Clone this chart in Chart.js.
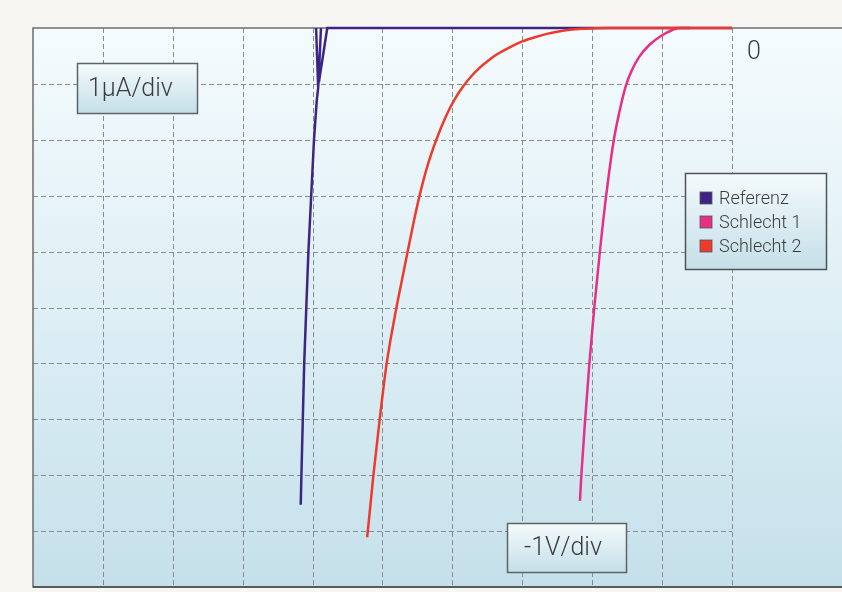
<!DOCTYPE html>
<html>
<head>
<meta charset="utf-8">
<script src="https://cdn.jsdelivr.net/npm/chart.js@4.4.1/dist/chart.umd.min.js"></script>
<style>
  html, body { margin: 0; padding: 0; background: #f7f6f2; }
  #wrap { width: 842px; height: 592px; position: relative; }
</style>
</head>
<body>
<div id="wrap"><canvas id="c" width="842" height="592"></canvas></div>
<script>
// ---- data (voltage in V, current in µA) ----
const seriesNames = ['Referenz', 'Schlecht 1', 'Schlecht 2'];
const seriesColors = ['#3d2586', '#e62f86', '#ee3a2c'];

// Referenz: main branch, hysteresis branches (null = gap)
const refX = [-6.17, -6.16, -6.14, -6.12, -6.09, -6.06, -6.02, -5.98, -5.94, -5.92, -5.95, null, -5.92, -5.88, null, -5.91, -5.79, 0];
const refY = [-8.53, -8.00, -7.00, -6.00, -5.00, -4.00, -3.00, -2.00, -1.29, -1.07, 0, null, -1.07, 0, null, -0.97, 0, 0];

const s1X = [-2.175, -2.155, -2.10, -2.04, -1.97, -1.89, -1.80, -1.69, -1.61, -1.52, -1.43, -1.33, -1.18, -1.00, -0.86, -0.76, -0.60];
const s1Y = [-8.46, -8.00, -7.00, -6.00, -5.00, -4.00, -3.00, -2.00, -1.50, -1.04, -0.75, -0.52, -0.30, -0.13, -0.04, 0, 0];

const s2X = [-5.22, -5.21, -5.13, -5.04, -4.94, -4.80, -4.72, -4.64, -4.55, -4.46, -4.35, -4.23, -4.10, -3.97, -3.85, -3.72, -3.60, -3.48, -3.36, -3.18, -3.00, -2.82, -2.65, -2.48, -2.32, -2.15, -1.95, -1.75, 0];
const s2Y = [-9.11, -9.00, -8.00, -7.00, -6.00, -5.00, -4.50, -4.00, -3.45, -2.95, -2.44, -2.00, -1.60, -1.28, -1.05, -0.85, -0.70, -0.575, -0.47, -0.345, -0.24, -0.165, -0.105, -0.062, -0.033, -0.014, -0.004, 0, 0];

const voltGrid = [-9, -8, -7, -6, -5, -4, -3, -2, -1, 0];
const currGrid = [-1, -2, -3, -4, -5, -6, -7, -8, -9];
const xMin = -10, xMax = 1.574, yMin = -10, yMax = 0;

const labelCurrent = '1µA/div';
const labelVoltage = '-1V/div';
const labelZero = '0';

function pts(xs, ys) {
  return xs.map((x, i) => (x === null ? { x: null, y: null } : { x: x, y: ys[i] }));
}

const FONT = '"Roboto", "Liberation Sans", "DejaVu Sans", sans-serif';

function boxGradient(ctx, x, y, w, h) {
  const g = ctx.createLinearGradient(0, y, 0, y + h);
  g.addColorStop(0, '#f4fafc');
  g.addColorStop(1, '#c4dfe8');
  return g;
}

const scopePlugin = {
  id: 'scope',
  beforeDraw(chart) {
    const { ctx, chartArea: a, scales } = chart;
    const xs = scales.x, ys = scales.y;
    ctx.save();
    ctx.fillStyle = '#f7f6f2';
    ctx.fillRect(0, 0, chart.width, chart.height);
    const g = ctx.createLinearGradient(0, a.top, 0, a.bottom);
    g.addColorStop(0, '#f5fbfd');
    g.addColorStop(0.5, '#deeff5');
    g.addColorStop(1, '#c5e0ea');
    ctx.fillStyle = g;
    ctx.fillRect(a.left, a.top, a.right - a.left, a.bottom - a.top);
    ctx.strokeStyle = '#868d92';
    ctx.lineWidth = 1;
    ctx.setLineDash([5, 3]);
    const x0 = xs.getPixelForValue(0);
    currGrid.forEach(v => {
      const y = Math.round(ys.getPixelForValue(v)) + 0.5;
      ctx.beginPath(); ctx.moveTo(a.left, y); ctx.lineTo(x0, y); ctx.stroke();
    });
    voltGrid.forEach(v => {
      const x = Math.round(xs.getPixelForValue(v)) + 0.5;
      ctx.beginPath(); ctx.moveTo(x, a.top); ctx.lineTo(x, a.bottom); ctx.stroke();
    });
    ctx.setLineDash([]);
    ctx.strokeStyle = '#6b6e70';
    ctx.lineWidth = 1.5;
    ctx.beginPath();
    ctx.moveTo(a.right, a.top); ctx.lineTo(a.left, a.top);
    ctx.lineTo(a.left, a.bottom); ctx.lineTo(a.right, a.bottom);
    ctx.stroke();
    ctx.strokeStyle = '#555a5d';
    ctx.lineWidth = 2;
    ctx.beginPath(); ctx.moveTo(a.left, a.bottom); ctx.lineTo(a.right, a.bottom); ctx.stroke();
    ctx.restore();
  },
  afterDatasetsDraw(chart) {
    const { ctx, scales } = chart;
    const xs = scales.x, ys = scales.y;
    ctx.save();
    function labelBox(x, y, w, h, text, size, tx) {
      ctx.fillStyle = boxGradient(ctx, x, y, w, h);
      ctx.fillRect(x, y, w, h);
      ctx.strokeStyle = '#5d6366';
      ctx.lineWidth = 1.5;
      ctx.strokeRect(x, y, w, h);
      ctx.fillStyle = '#3a3d40';
      ctx.font = '300 ' + size + 'px ' + FONT;
      ctx.textBaseline = 'middle';
      ctx.textAlign = 'left';
      ctx.fillText(text, tx, y + h / 2 + 1);
    }
    labelBox(77.5, 63.5, 120, 50, labelCurrent, 25, 88);
    labelBox(507.5, 523.5, 119, 49, labelVoltage, 25, 524);
    ctx.fillStyle = '#3a3d40';
    ctx.font = '300 25px ' + FONT;
    ctx.textAlign = 'center';
    ctx.textBaseline = 'middle';
    ctx.fillText(labelZero, xs.getPixelForValue(0) + 22, ys.getPixelForValue(0) + 25);
    const lx = 685.5, ly = 173.5, lw = 141, lh = 96;
    ctx.fillStyle = boxGradient(ctx, lx, ly, lw, lh);
    ctx.fillRect(lx, ly, lw, lh);
    ctx.strokeStyle = '#4f5457';
    ctx.lineWidth = 1.5;
    ctx.strokeRect(lx, ly, lw, lh);
    ctx.font = '300 18px ' + FONT;
    ctx.textAlign = 'left';
    seriesNames.forEach((name, i) => {
      const cy = 198 + i * 24;
      ctx.fillStyle = seriesColors[i];
      ctx.fillRect(700, cy - 6, 12, 12);
      ctx.strokeStyle = '#555';
      ctx.lineWidth = 0.8;
      ctx.strokeRect(700, cy - 6, 12, 12);
      ctx.fillStyle = '#3a3d40';
      ctx.fillText(name, 719, cy + 1);
    });
    ctx.restore();
  }
};

new Chart(document.getElementById('c'), {
  type: 'scatter',
  data: {
    datasets: [
      { label: seriesNames[0], data: pts(refX, refY), borderColor: seriesColors[0], backgroundColor: seriesColors[0],
        showLine: true, borderWidth: 2.5, pointRadius: 0, tension: 0, spanGaps: false, clip: false, order: 2 },
      { label: seriesNames[1], data: pts(s1X, s1Y), borderColor: seriesColors[1], backgroundColor: seriesColors[1],
        showLine: true, borderWidth: 2.5, pointRadius: 0, cubicInterpolationMode: 'monotone', clip: false, order: 1 },
      { label: seriesNames[2], data: pts(s2X, s2Y), borderColor: seriesColors[2], backgroundColor: seriesColors[2],
        showLine: true, borderWidth: 2.5, pointRadius: 0, cubicInterpolationMode: 'monotone', clip: false, order: 0 }
    ]
  },
  options: {
    responsive: false,
    animation: false,
    events: [],
    layout: { padding: { left: 33, top: 28, right: 0, bottom: 5 } },
    plugins: { legend: { display: false }, tooltip: { enabled: false } },
    scales: {
      x: { type: 'linear', min: xMin, max: xMax, display: false },
      y: { type: 'linear', min: yMin, max: yMax, display: false }
    }
  },
  plugins: [scopePlugin]
});
</script>
</body>
</html>
